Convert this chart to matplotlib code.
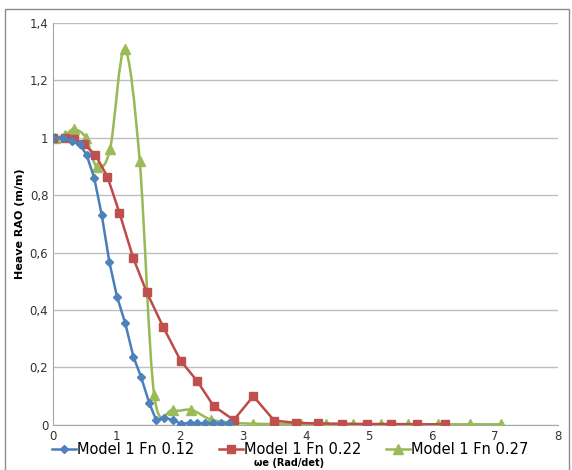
import matplotlib
matplotlib.use("Agg")
import matplotlib.pyplot as plt
from matplotlib.path import Path
from matplotlib.patches import PathPatch, Rectangle

# Model 1 Fn 0.12
w_012 = [0, 0.15, 0.3, 0.42, 0.53, 0.65, 0.77, 0.89, 1.01, 1.14, 1.27, 1.39,
         1.52, 1.63, 1.76, 1.9, 2.03, 2.16, 2.28, 2.41, 2.53, 2.66, 2.78]
rao_012 = [1.0, 0.998, 0.99, 0.978, 0.94, 0.86, 0.73, 0.567, 0.447, 0.355, 0.238, 0.168,
           0.077, 0.017, 0.024, 0.017, 0.003, 0.008, 0.006, 0.005, 0.005, 0.005, 0.005]

# Model 1 Fn 0.22
w_022 = [0, 0.19, 0.33, 0.48, 0.67, 0.86, 1.05, 1.27, 1.48, 1.74, 2.02, 2.28,
         2.54, 2.86, 3.17, 3.5, 3.84, 4.19, 4.57, 4.97, 5.35, 5.76, 6.2]
rao_022 = [1.0, 1.0, 0.997, 0.98, 0.94, 0.864, 0.738, 0.58, 0.463, 0.342, 0.223, 0.153,
           0.066, 0.017, 0.1, 0.015, 0.007, 0.005, 0.004, 0.003, 0.003, 0.002, 0.002]

# Model 1 Fn 0.27
w_027 = [0.03, 0.19, 0.33, 0.52, 0.69, 0.9, 1.13, 1.37, 1.6, 1.9, 2.19, 2.5,
         2.84, 3.17, 3.54, 3.92, 4.32, 4.75, 5.19, 5.62, 6.1, 6.6, 7.1]
rao_027 = [1.0, 1.01, 1.03, 1.0, 0.9, 0.96, 1.31, 0.92, 0.104, 0.052, 0.052, 0.018,
           0.008, 0.004, 0.003, 0.003, 0.002, 0.002, 0.002, 0.002, 0.002, 0.002, 0.002]

yticks = [0, 0.2, 0.4, 0.6, 0.8, 1.0, 1.2, 1.4]
ytick_labels = ["0", "0,2", "0,4", "0,6", "0,8", "1", "1,2", "1,4"]
xticks = [0, 1, 2, 3, 4, 5, 6, 7, 8]


def smooth_path(xs, ys, k=1 / 6):
    # bezier curve through the points, like an Excel smoothed line
    verts = [(xs[0], ys[0])]
    codes = [Path.MOVETO]
    n = len(xs)
    for i in range(n - 1):
        x0, y0 = (xs[i - 1], ys[i - 1]) if i > 0 else (xs[i], ys[i])
        x3, y3 = (xs[i + 2], ys[i + 2]) if i + 2 < n else (xs[i + 1], ys[i + 1])
        c1 = (xs[i] + (xs[i + 1] - x0) * k, ys[i] + (ys[i + 1] - y0) * k)
        c2 = (xs[i + 1] - (x3 - xs[i]) * k, ys[i + 1] - (y3 - ys[i]) * k)
        verts += [c1, c2, (xs[i + 1], ys[i + 1])]
        codes += [Path.CURVE4] * 3
    return Path(verts, codes)


fig = plt.figure(figsize=(5.72, 4.70), dpi=100)
ax = fig.add_axes([0.093, 0.096, 0.883, 0.855])

ax.plot(w_012, rao_012, color="#4A7EBB", lw=1.8, marker="D", ms=4.5,
        mfc="#4F81BD", mec="#4F81BD", label="Model 1 Fn 0.12", zorder=5)
ax.plot(w_022, rao_022, color="#BE4B48", lw=1.8, marker="s", ms=6,
        mfc="#C0504D", mec="#C0504D", label="Model 1 Fn 0.22", zorder=4)
ax.add_patch(PathPatch(smooth_path(w_027, rao_027), fill=False,
                       edgecolor="#98B954", lw=1.8, zorder=3))
ax.plot(w_027, rao_027, color="#98B954", lw=0, marker="^", ms=6.5,
        mfc="#9BBB59", mec="#9BBB59", zorder=3)
# legend handle for the smoothed series
ax.plot([], [], color="#98B954", lw=1.8, marker="^", ms=6.5,
        mfc="#9BBB59", mec="#9BBB59", label="Model 1 Fn 0.27")

ax.set_xlim(0, 8)
ax.set_ylim(0, 1.4)
ax.set_xticks(xticks)
ax.set_yticks(yticks)
ax.set_yticklabels(ytick_labels)
ax.tick_params(axis="both", length=0, labelsize=8.5, colors="#333333")
ax.tick_params(axis="x", pad=4)
ax.grid(axis="y", color="#BFBFBF", lw=1)
ax.set_axisbelow(True)
for s in ["top", "right"]:
    ax.spines[s].set_visible(False)
for s in ["left", "bottom"]:
    ax.spines[s].set_color("#A6A6A6")

ax.set_ylabel("Heave RAO (m/m)", fontsize=8, fontweight="bold", labelpad=3)

leg = fig.legend(loc="center", bbox_to_anchor=(0.507, 0.043), ncol=3,
                 frameon=False, fontsize=10.5, handlelength=1.65,
                 handletextpad=0.05, columnspacing=1.7)
leg.set_zorder(10)

fig.text(0.505, 0.015, "ωe (Rad/det)", fontsize=7, fontweight="bold",
         ha="center", va="center")

fig.patches.append(Rectangle((0.009, -0.05), 0.985, 1.031, fill=False,
                             edgecolor="#8C8C8C", lw=1,
                             transform=fig.transFigure, figure=fig))

fig.savefig("out.png", dpi=100)
